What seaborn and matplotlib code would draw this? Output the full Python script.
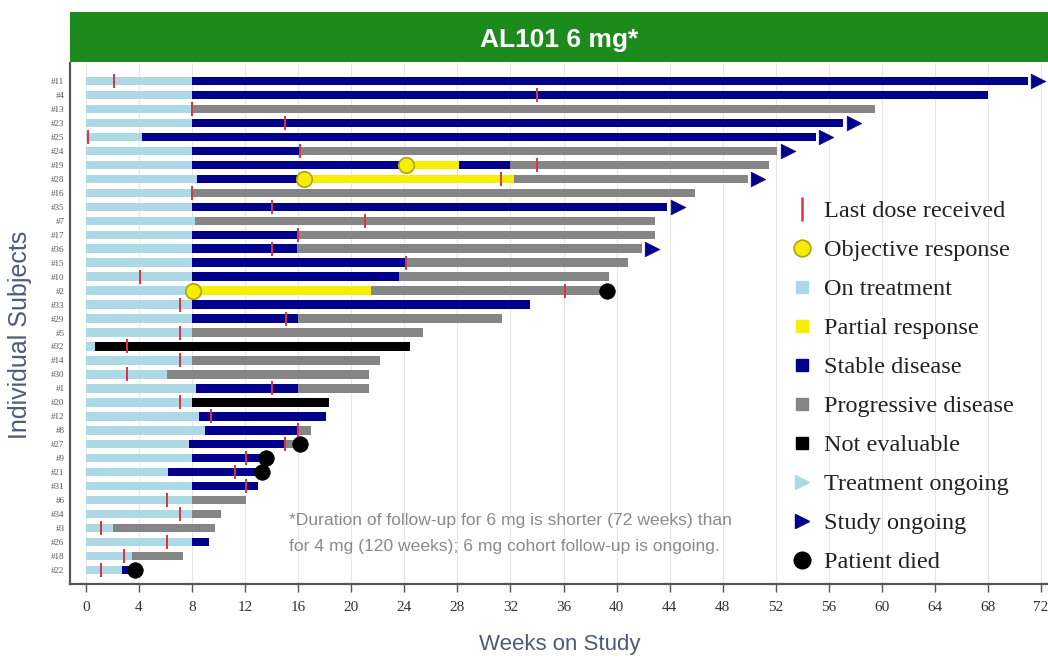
import numpy as np
import pandas as pd
import matplotlib
matplotlib.use("Agg")
import matplotlib.pyplot as plt
import seaborn as sns
from matplotlib.lines import Line2D

# ---------------- data ----------------
subjects = ["#11", "#4", "#13", "#23", "#25", "#24", "#19", "#28", "#16", "#35",
            "#7", "#17", "#36", "#15", "#10", "#2", "#33", "#29", "#5", "#32",
            "#14", "#30", "#1", "#20", "#12", "#8", "#27", "#9", "#21", "#31",
            "#6", "#34", "#3", "#26", "#18", "#22"]

# end of "On treatment" (light blue) phase, weeks from 0
treatment_end = [8, 8, 8, 8, 4.2, 8, 8, 8.4, 8, 8,
                 8.2, 8, 8, 8, 8, 8, 8, 8, 8, 0.7,
                 8, 6.1, 8.3, 8, 8.5, 9.0, 7.8, 8, 6.2, 8,
                 8, 8, 2.0, 8, 3.5, 2.7]

# response segments after treatment phase
seg_subject = ["#11", "#4", "#13", "#23", "#25",
               "#24", "#24",
               "#19", "#19", "#19", "#19",
               "#28", "#28", "#28",
               "#16", "#35", "#7",
               "#17", "#17", "#36", "#36", "#15", "#15", "#10", "#10",
               "#2", "#2", "#33", "#29", "#29", "#5", "#32", "#14", "#30",
               "#1", "#1", "#20", "#12", "#8", "#8", "#27", "#27",
               "#9", "#21", "#31", "#6", "#34", "#3", "#26", "#18", "#22"]
seg_start = [8, 8, 8, 8, 4.2,
             8, 16.1,
             8, 24.1, 28.1, 32.0,
             8.4, 16.4, 32.3,
             8, 8, 8.2,
             8, 16.0, 8, 15.9, 8, 24.1, 8, 23.6,
             8, 21.5, 8, 8, 16.0, 8, 0.7, 8, 6.1,
             8.3, 16.0, 8, 8.5, 9.0, 16.0, 7.8, 15.0,
             8, 6.2, 8, 8, 8, 2.0, 8, 3.5, 2.7]
seg_end = [71.0, 68.0, 59.5, 57.1, 55.0,
           16.1, 52.1,
           24.1, 28.1, 32.0, 51.5,
           16.4, 32.3, 49.9,
           45.9, 43.8, 42.9,
           16.0, 42.9, 15.9, 41.9, 24.1, 40.9, 23.6, 39.4,
           21.5, 39.3, 33.5, 16.0, 31.4, 25.4, 24.4, 22.2, 21.3,
           16.0, 21.3, 18.3, 18.1, 16.0, 17.0, 15.0, 15.8,
           13.6, 13.3, 13.0, 12.1, 10.2, 9.7, 9.3, 7.3, 3.7]
seg_status = ["SD", "SD", "PD", "SD", "SD",
              "SD", "PD",
              "SD", "PR", "SD", "PD",
              "SD", "PR", "PD",
              "PD", "SD", "PD",
              "SD", "PD", "SD", "PD", "SD", "PD", "SD", "PD",
              "PR", "PD", "SD", "SD", "PD", "PD", "NE", "PD", "PD",
              "SD", "PD", "NE", "SD", "SD", "PD", "SD", "PD",
              "SD", "SD", "SD", "PD", "PD", "PD", "SD", "PD", "SD"]

last_dose_week = [2.1, 34.0, 8.0, 15.0, 0.15, 16.1, 34.0, 31.3, 8.0, 14.0,
                  21.0, 16.0, 14.0, 24.1, 4.1, 36.1, 7.1, 15.1, 7.1, 3.1,
                  7.1, 3.1, 14.0, 7.1, 9.4, 16.0, 15.0, 12.1, 11.2, 12.1,
                  6.1, 7.1, 1.1, 6.1, 2.9, 1.1]

response_subject = ["#19", "#28", "#2"]
response_week = [24.1, 16.4, 8.1]

died_subject = ["#2", "#27", "#9", "#21", "#22"]
died_week = [39.3, 16.1, 13.6, 13.3, 3.7]

ongoing_subject = ["#11", "#23", "#25", "#24", "#28", "#35", "#36"]

week_ticks = list(range(0, 73, 4))

legend_labels = ["Last dose received", "Objective response", "On treatment",
                 "Partial response", "Stable disease", "Progressive disease",
                 "Not evaluable", "Treatment ongoing", "Study ongoing",
                 "Patient died"]

title_text = "AL101 6 mg*"
footnote_lines = ["*Duration of follow-up for 6 mg is shorter (72 weeks) than",
                  "for 4 mg (120 weeks); 6 mg cohort follow-up is ongoing."]

# ---------------- style ----------------
C_OT = "#add8e6"
C_PR = "#f6ee00"
C_SD = "#00008c"
C_PD = "#858585"
C_NE = "#000000"
C_RED = "#e0323c"
C_GREEN = "#1c8a1c"
status_color = {"SD": C_SD, "PD": C_PD, "PR": C_PR, "NE": C_NE}

sns.set_theme(style="white")
plt.rcParams['font.family'] = ['Liberation Sans', 'DejaVu Sans']

fig = plt.figure(figsize=(10.48, 6.57), dpi=100)
ax = fig.add_axes([70 / 1048, 1 - 584 / 657, 978 / 1048, 521 / 657])

ypos = {s: i for i, s in enumerate(subjects)}
bar_h = 0.6

# treatment bars
ax.barh([ypos[s] for s in subjects], treatment_end, left=0, height=bar_h,
        color=C_OT, zorder=2, linewidth=0)

# segments
seg = pd.DataFrame({"subject": seg_subject, "start": seg_start,
                    "end": seg_end, "status": seg_status})
seg["y"] = seg["subject"].map(ypos)
for status, grp in seg.groupby("status"):
    ax.barh(grp["y"], grp["end"] - grp["start"], left=grp["start"],
            height=bar_h, color=status_color[status], zorder=2, linewidth=0)

# ongoing arrows: just after the subject's bar end
bar_end = seg.groupby("subject")["end"].max()
ong = pd.DataFrame({"subject": ongoing_subject})
ong["x"] = ong["subject"].map(bar_end) + 0.8
ong["y"] = ong["subject"].map(ypos)
sns.scatterplot(data=ong, x="x", y="y", marker=">", s=110, color=C_SD,
                edgecolor=C_SD, linewidth=0.5, ax=ax, zorder=5, legend=False)

# last dose ticks
dose = pd.DataFrame({"x": last_dose_week, "y": [ypos[s] for s in subjects]})
sns.scatterplot(data=dose, x="x", y="y", marker="|", s=115, color=C_RED,
                linewidth=1.4, ax=ax, zorder=4, legend=False)

# objective response
resp = pd.DataFrame({"x": response_week, "y": [ypos[s] for s in response_subject]})
sns.scatterplot(data=resp, x="x", y="y", marker="o", s=125, color=C_PR,
                edgecolor="#b0a020", linewidth=1.2, ax=ax, zorder=6, legend=False)

# died
died = pd.DataFrame({"x": died_week, "y": [ypos[s] for s in died_subject]})
sns.scatterplot(data=died, x="x", y="y", marker="o", s=125, color="black",
                edgecolor="black", linewidth=0.5, ax=ax, zorder=6, legend=False)

# axes
ax.set_xlim((70 - 86) / 13.264, (1048 - 86) / 13.264)
ax.set_ylim(len(subjects) - 1 + 1.0, -1.29)
ax.set_xticks(week_ticks)
ax.set_xticklabels([str(w) for w in week_ticks], family="Liberation Serif",
                   fontsize=11, color="#333333")
ax.set_yticks(range(len(subjects)))
ax.set_yticklabels(subjects, family="Liberation Serif", fontsize=6.5,
                   color="#555555")
ax.tick_params(axis="x", bottom=True, length=6, width=1, color="#555555", pad=6)
ax.tick_params(axis="y", left=False, length=0, pad=4)
ax.grid(axis="x", color="#e6e6e6", linewidth=0.8)
ax.grid(axis="y", visible=False)
ax.set_axisbelow(True)
for side in ["top", "right"]:
    ax.spines[side].set_visible(False)
for side in ["left", "bottom"]:
    ax.spines[side].set_color("#555555")
    ax.spines[side].set_linewidth(1.6)

ax.set_xlabel("Weeks on Study", fontsize=16, color="#4f5b7a")
ax.set_ylabel("Individual Subjects", fontsize=18, color="#4f5b7a")
ax.xaxis.set_label_coords((560 - 70) / 978, (584 - 634) / 521)
ax.yaxis.set_label_coords((32 - 70) / 978, (584 - 335) / 521)

# footnote
ax.text((289 - 70) / 978, (584 - 521) / 521, footnote_lines[0],
        transform=ax.transAxes, ha="left", va="center", fontsize=12.6,
        color="#8a8a8a")
ax.text((289 - 70) / 978, (584 - 546) / 521, footnote_lines[1],
        transform=ax.transAxes, ha="left", va="center", fontsize=12.6,
        color="#8a8a8a")

# title bar
tax = fig.add_axes([70 / 1048, 1 - 62 / 657, 978 / 1048, 50 / 657])
tax.set_facecolor(C_GREEN)
tax.set_xticks([])
tax.set_yticks([])
for sp in tax.spines.values():
    sp.set_visible(False)
tax.text(0.5, 0.44, title_text, transform=tax.transAxes, ha="center",
         va="center", fontsize=19, fontweight="bold", color="white")

# legend
handles = [
    Line2D([], [], marker="|", color=C_RED, linestyle="None", markersize=17,
           markeredgewidth=1.8),
    Line2D([], [], marker="o", linestyle="None", markerfacecolor=C_PR,
           markeredgecolor="#b0a020", markeredgewidth=1.2, markersize=12),
    Line2D([], [], marker="s", linestyle="None", color=C_OT, markersize=8),
    Line2D([], [], marker="s", linestyle="None", color=C_PR, markersize=8),
    Line2D([], [], marker="s", linestyle="None", color=C_SD, markersize=8),
    Line2D([], [], marker="s", linestyle="None", color=C_PD, markersize=8),
    Line2D([], [], marker="s", linestyle="None", color=C_NE, markersize=8),
    Line2D([], [], marker=">", linestyle="None", color=C_OT, markersize=10),
    Line2D([], [], marker=">", linestyle="None", color=C_SD, markersize=10),
    Line2D([], [], marker="o", linestyle="None", color="black", markersize=12),
]
fig.legend(handles, legend_labels, loc="upper left",
           bbox_to_anchor=(790 / 1048, 1 - 200 / 657), frameon=False,
           prop={"family": "Liberation Serif", "size": 17.5},
           labelcolor="#222222", handlelength=0.95, handletextpad=0.45,
           labelspacing=0.70, borderpad=0, borderaxespad=0)

fig.savefig("out.png", dpi=100)
